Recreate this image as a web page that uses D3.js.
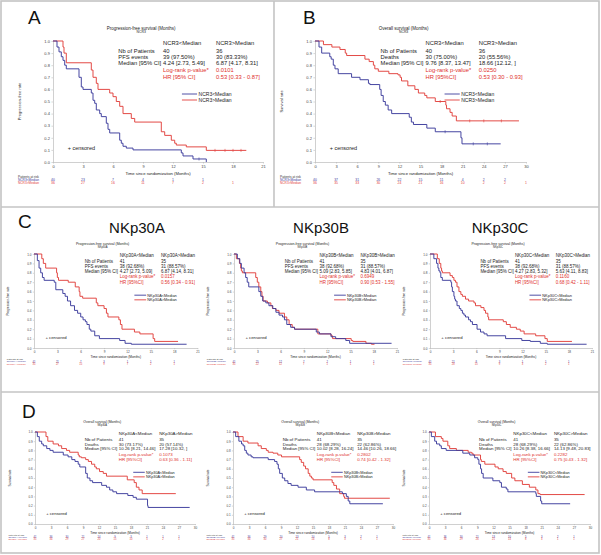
<!DOCTYPE html>
<html><head><meta charset="utf-8">
<script src="https://cdn.jsdelivr.net/npm/d3@7/dist/d3.min.js"></script>
<style>html,body{margin:0;padding:0;background:#fff;} svg{display:block;font-family:"Liberation Sans",Arial,sans-serif;}</style>
</head><body><svg id="c" width="601" height="555"></svg>
<script>
// ---------------- DATA ----------------
const yTickValues = [0,0.1,0.2,0.3,0.4,0.5,0.6,0.7,0.8,0.9,1.0];
const xTicks21 = [0,3,6,9,12,15,18,21];
const xTicks30 = [0,3,6,9,12,15,18,21,24,27,30];
const timeTitle = "Time since randomization (Months)";
const riskTitle = "Patients at risk";
const pfsTitle = "Progression-free survival (Months)";
const osTitle = "Overall survival (Months)";

// Panel A : NCR3, PFS  ([month, survival] steps)
const aLow = [[0,1],[0.4,0.95],[0.6,0.91],[0.83,0.87],[1.0,0.84],[1.17,0.80],[1.33,0.77],[2.6,0.70],[2.83,0.62],[3.0,0.60],[3.83,0.57],[4.0,0.51],[4.17,0.485],[4.33,0.43],[4.67,0.40],[4.83,0.375],[5.33,0.32],[5.5,0.27],[5.67,0.24],[6.67,0.18],[6.83,0.155],[7.0,0.13],[7.33,0.115],[8.0,0.10],[12.83,0.075],[13.0,0.05],[14.0,0.025],[15.33,0]];
const aHigh = [[0,1],[1.0,0.95],[1.1,0.90],[1.33,0.82],[3.83,0.76],[4.0,0.70],[4.33,0.65],[4.5,0.60],[5.67,0.57],[6.0,0.54],[6.33,0.50],[6.67,0.46],[7.0,0.40],[7.83,0.36],[8.17,0.33],[10.83,0.25],[11.17,0.22],[11.83,0.18],[12.17,0.155],[12.33,0.14],[13.33,0.125],[15.33,0.096],[19.33,0.096]];
const aLowCens = [14.6];
const aHighCens = [16.2,17.2,18.0,18.8];
const aGroups = ["NCR3<Median","NCR3>Median"];
const aRows = [["Nb of Patients","40","36"],["PFS events","39 (97.50%)","30 (83.33%)"],["Median [95% CI]","4.24 [2.73, 5.49]","6.87 [4.17, 8.31]"]];
const aTest = ["Log-rank p-value*","0.0101","HR [95% CI]","0.53 [0.33 - 0.87]"];
const aRiskLow = [40,23,7,4,1,1];
const aRiskHigh = [36,27,16,11,7,2,1];

// Panel B : NCR3, OS
const bLow = [[0,1],[0.57,0.95],[0.95,0.90],[2.1,0.87],[2.3,0.85],[2.6,0.80],[2.84,0.77],[3.3,0.73],[5.2,0.70],[6.4,0.68],[7.6,0.65],[7.8,0.64],[9.2,0.60],[9.4,0.55],[9.7,0.50],[10.0,0.47],[10.4,0.43],[10.9,0.40],[13.4,0.37],[13.7,0.33],[14.0,0.31],[15.9,0.28],[17.1,0.25],[20.75,0.20],[20.9,0.15],[26.4,0.15]];
const bHigh = [[0,1],[1.2,0.97],[2.4,0.95],[3.55,0.93],[4.3,0.90],[4.5,0.88],[7.1,0.85],[7.7,0.83],[8.3,0.80],[8.5,0.77],[9.0,0.75],[10.5,0.73],[11.8,0.72],[12.1,0.70],[12.3,0.67],[13.2,0.63],[14.2,0.60],[14.7,0.57],[15.6,0.55],[15.9,0.53],[17.1,0.50],[18.6,0.47],[18.7,0.44],[19.2,0.41],[19.5,0.38],[20.1,0.34],[29.0,0.34]];
const bLowCens = [18.5,22.5,24.5];
const bHighCens = [17.8,22.0,24.0,26.5];
const bGroups = ["NCR3<Median","NCR3>Median"];
const bRows = [["Nb of Patients","40","36"],["Deaths","30 (75.00%)","20 (55.56%)"],["Median [95% CI]","9.76 [8.37, 13.47]","18.66 [12.12, ]"]];
const bTest = ["Log-rank p-value*","0.0250","HR [95%CI]","0.53 [0.30 - 0.93]"];
const bRiskLow = [40,37,31,26,22,15,11,4,2,2];
const bRiskHigh = [36,35,33,30,24,21,16,10,2,2,1];

// Panel C : NKp30A / B / C, PFS
const c1Low = [[0,1],[0.43,0.93],[0.65,0.85],[0.86,0.80],[1.08,0.75],[1.3,0.72],[2.6,0.70],[2.8,0.62],[3.7,0.58],[4.0,0.55],[4.3,0.50],[4.7,0.45],[5.2,0.40],[5.6,0.37],[6.0,0.33],[6.3,0.30],[6.6,0.28],[6.8,0.25],[7.1,0.20],[7.3,0.18],[7.8,0.13],[8.4,0.10],[11.0,0.08],[11.7,0.05],[12.5,0.04],[19.6,0.04]];
const c1High = [[0,1],[1.0,0.95],[1.2,0.90],[1.5,0.85],[2.9,0.80],[3.0,0.75],[3.15,0.72],[4.4,0.70],[5.3,0.65],[5.8,0.60],[5.9,0.55],[6.25,0.53],[8.0,0.48],[8.2,0.45],[9.0,0.42],[9.3,0.37],[9.5,0.33],[10.9,0.30],[11.1,0.25],[11.3,0.20],[12.9,0.17],[13.6,0.15],[15.3,0.10],[15.5,0.07],[18.5,0.07]];
const c2Low = [[0,1],[0.43,0.95],[0.75,0.90],[0.95,0.85],[1.3,0.80],[1.5,0.75],[1.7,0.70],[1.9,0.65],[3.2,0.60],[3.45,0.55],[3.7,0.50],[4.1,0.48],[4.5,0.45],[5.0,0.42],[5.4,0.38],[5.8,0.35],[6.25,0.33],[6.5,0.30],[6.8,0.25],[7.3,0.22],[7.8,0.20],[10.6,0.17],[11.0,0.15],[12.5,0.12],[13.1,0.10],[14.4,0.08],[14.9,0.05],[20.3,0.05]];
const c2High = [[0,1],[0.3,0.95],[0.7,0.90],[0.86,0.85],[0.95,0.82],[1.08,0.80],[2.8,0.75],[3.0,0.70],[3.2,0.65],[3.45,0.60],[3.6,0.55],[3.75,0.50],[4.3,0.48],[4.75,0.45],[4.95,0.42],[5.4,0.40],[5.8,0.37],[6.5,0.33],[6.8,0.30],[7.1,0.25],[7.5,0.22],[7.8,0.20],[10.8,0.15],[12.5,0.13],[12.7,0.10],[15.1,0.08],[15.3,0.07],[17.0,0.05],[17.7,0.04],[18.1,0.04]];
const c3Low = [[0,1],[0.5,0.95],[0.85,0.90],[1.03,0.85],[1.15,0.82],[1.3,0.80],[1.4,0.75],[1.6,0.72],[2.7,0.70],[2.8,0.65],[2.9,0.60],[3.1,0.55],[3.2,0.52],[3.3,0.50],[3.5,0.45],[3.8,0.42],[4.0,0.40],[4.2,0.37],[4.4,0.35],[4.6,0.33],[5.0,0.30],[5.25,0.28],[5.5,0.25],[6.1,0.20],[6.55,0.17],[7.0,0.15],[7.4,0.13],[9.8,0.10],[11.9,0.08],[13.0,0.07],[14.3,0.05],[15.2,0.04],[20.3,0.04]];
const c3High = [[0,1],[0.95,0.95],[1.2,0.90],[1.4,0.85],[1.5,0.82],[1.6,0.80],[2.6,0.77],[2.9,0.75],[3.1,0.72],[3.3,0.70],[3.5,0.65],[3.75,0.60],[4.0,0.57],[4.2,0.55],[4.6,0.52],[5.0,0.50],[5.7,0.48],[5.9,0.45],[6.6,0.43],[7.0,0.40],[7.2,0.37],[7.5,0.33],[7.6,0.30],[9.5,0.28],[9.9,0.25],[10.4,0.22],[11.2,0.20],[11.7,0.18],[12.2,0.15],[13.7,0.13],[14.9,0.10],[15.2,0.07],[18.4,0.07]];
const c1Groups = ["NKp30A<Median","NKp30A>Median"];
const c2Groups = ["NKp30B<Median","NKp30B>Median"];
const c3Groups = ["NKp30C<Median","NKp30C>Median"];
const c1Rows = [["Nb of Patients","41","35"],["PFS events","38 (92.68%)","31 (88.57%)"],["Median [95% CI]","4.27 [2.73, 5.09]","6.87 [4.14, 8.31]"]];
const c2Rows = [["Nb of Patients","41","35"],["PFS events","38 (92.68%)","31 (88.57%)"],["Median [95% CI]","5.09 [2.83, 5.85]","4.83 [4.01, 6.87]"]];
const c3Rows = [["Nb of Patients","41","35"],["PFS events","38 (92.68%)","31 (88.57%)"],["Median [95% CI]","4.27 [2.83, 5.32]","5.63 [4.11, 8.83]"]];
const c1Test = ["Log-rank p-value*","0.0157","HR [95%CI]","0.56 [0.34 - 0.91]"];
const c2Test = ["Log-rank p-value*","0.6949","HR [95%CI]","0.90 [0.53 - 1.55]"];
const c3Test = ["Log-rank p-value*","0.1160","HR [95%CI]","0.68 [0.42 - 1.11]"];
const c1RiskLow = [41,21,7,3,1,1,1];
const c1RiskHigh = [35,27,15,9,7,2,1];
const c2RiskLow = [41,25,12,7,2,1,1];
const c2RiskHigh = [35,22,12,7,1,1,1];
const c3RiskLow = [41,21,8,3,1,1,1];
const c3RiskHigh = [35,28,15,9,3,2,1];

// Panel D : NKp30A / B / C, OS
const d1Low = [[0,1],[0.44,0.95],[0.8,0.90],[1.25,0.87],[1.56,0.85],[2.2,0.82],[2.8,0.80],[3.4,0.78],[5.3,0.75],[6.2,0.73],[6.9,0.70],[7.5,0.68],[8.1,0.65],[8.4,0.62],[9.5,0.55],[9.8,0.50],[10.3,0.47],[10.8,0.45],[12.5,0.42],[13.4,0.40],[14.0,0.37],[14.6,0.35],[15.3,0.33],[17.4,0.31],[18.4,0.29],[19.0,0.27],[21.1,0.20],[21.2,0.18],[29.0,0.18]];
const d1High = [[0,1],[2.06,0.95],[2.4,0.90],[3.4,0.87],[4.4,0.85],[5.0,0.82],[5.9,0.80],[6.5,0.78],[8.1,0.75],[8.3,0.73],[8.7,0.72],[9.5,0.70],[10.0,0.68],[10.6,0.65],[11.2,0.62],[11.5,0.60],[12.1,0.57],[12.8,0.55],[13.4,0.52],[17.3,0.48],[18.6,0.45],[19.0,0.40],[19.5,0.37],[20.1,0.33],[26.4,0.33]];
const d2Low = [[0,1],[0.5,0.95],[1.1,0.90],[1.6,0.87],[1.9,0.85],[2.2,0.80],[2.5,0.77],[2.8,0.75],[3.4,0.73],[3.75,0.72],[6.6,0.70],[7.8,0.68],[8.25,0.65],[8.5,0.60],[8.75,0.55],[9.25,0.50],[9.7,0.47],[10.3,0.44],[10.9,0.42],[12.2,0.40],[13.75,0.37],[15.3,0.35],[20.5,0.33],[21.25,0.30],[21.6,0.25],[21.9,0.22],[28.1,0.22]];
const d2High = [[0,1],[0.94,0.95],[1.9,0.90],[2.8,0.88],[4.7,0.85],[5.3,0.82],[6.25,0.80],[6.6,0.78],[7.5,0.77],[8.4,0.75],[9.1,0.73],[12.5,0.70],[12.8,0.67],[13.25,0.63],[13.6,0.60],[14.1,0.55],[14.4,0.52],[14.7,0.50],[15.0,0.48],[18.6,0.45],[18.9,0.42],[19.4,0.38],[20.0,0.33],[20.75,0.30],[20.9,0.28],[29.4,0.28]];
const d3Low = [[0,1],[0.44,0.95],[1.06,0.90],[1.4,0.87],[2.0,0.85],[2.3,0.82],[3.2,0.80],[6.3,0.77],[7.6,0.75],[8.5,0.72],[9.1,0.70],[9.3,0.65],[9.6,0.60],[9.8,0.55],[10.1,0.50],[11.9,0.47],[13.2,0.45],[13.5,0.40],[14.4,0.38],[14.7,0.35],[19.9,0.33],[20.0,0.30],[20.8,0.25],[21.0,0.22],[26.3,0.22]];
const d3High = [[0,1],[1.2,0.95],[2.3,0.93],[2.6,0.90],[3.5,0.85],[3.85,0.82],[5.1,0.80],[7.3,0.78],[7.9,0.77],[8.2,0.75],[9.6,0.70],[9.75,0.68],[10.4,0.65],[12.3,0.62],[12.9,0.60],[13.8,0.57],[14.4,0.55],[15.4,0.50],[16.0,0.47],[17.4,0.43],[18.7,0.40],[19.9,0.37],[20.3,0.33],[20.7,0.32],[29.0,0.32]];
const d1Rows = [["Nb of Patients","41","35"],["Deaths","30 (73.17%)","20 (57.14%)"],["Median [95% CI]","10.26 [8.21, 14.46]","17.28 [10.32, ]"]];
const d2Rows = [["Nb of Patients","41","35"],["Deaths","28 (68.29%)","22 (62.86%)"],["Median [95% CI]","10.02 [8.28, 16.24]","14.46 [10.26, 18.66]"]];
const d3Rows = [["Nb of Patients","41","35"],["Deaths","28 (68.29%)","22 (62.86%)"],["Median [95% CI]","10.26 [8.38, 16.66]","14.13 [9.48, 20.83]"]];
const d1Test = ["Log-rank p-value*","0.1073","HR [95%CI]","0.63 [0.36 - 1.11]"];
const d2Test = ["Log-rank p-value*","0.2802","HR [95%CI]","0.74 [0.42 - 1.32]"];
const d3Test = ["Log-rank p-value*","0.2282","HR [95%CI]","0.75 [0.43 - 1.32]"];
const d1RiskLow = [41,36,30,21,14,9,3,1,1,1];
const d1RiskHigh = [35,34,29,27,20,15,10,5,2,1];
const d2RiskLow = [41,36,29,20,13,10,5,3,2,1];
const d2RiskHigh = [35,34,30,27,21,14,8,3,1,1];
const d3RiskLow = [41,36,30,21,13,10,5,3,2,1];
const d3RiskHigh = [35,34,29,26,21,14,8,3,1,1];

// ---------------- LAYOUT / STYLE ----------------
const BLUE = "#3c3c9c", RED = "#e2403c", TXTRED = "#e0302c", GRID = "#c4c4c4";
const svg = d3.select("#c");

svg.append("rect").attr("x",1).attr("y",1).attr("width",598).attr("height",552)
  .attr("fill","none").attr("stroke",GRID).attr("stroke-width",1.6);
svg.append("line").attr("x1",274).attr("x2",274).attr("y1",1).attr("y2",207).attr("stroke",GRID).attr("stroke-width",1.6);
svg.append("line").attr("x1",1).attr("x2",599).attr("y1",207).attr("y2",207).attr("stroke",GRID).attr("stroke-width",1.6);
svg.append("line").attr("x1",1).attr("x2",599).attr("y1",392).attr("y2",392).attr("stroke",GRID).attr("stroke-width",1.6);

const letters = [["A",28,24],["B",303,24],["C",18,228],["D",22,418]];
letters.forEach(l => svg.append("text").attr("x",l[1]).attr("y",l[2]).text(l[0])
  .attr("font-size",19).attr("fill","#111"));
const headers = [["NKp30A",137],["NKp30B",321],["NKp30C",500]];
headers.forEach(h => svg.append("text").attr("x",h[1]).attr("y",233).attr("text-anchor","middle")
  .text(h[0]).attr("font-size",15).attr("fill","#111"));

const panels = [
  {x0:53,x1:263,xMax:21,ticks:xTicks21,yT:41,yB:162,title:pfsTitle,sub:"NCR3",yt:"Progression-free rate",groups:aGroups,rows:aRows,test:aTest,low:aLow,high:aHigh,lowC:aLowCens,highC:aHighCens,rL:aRiskLow,rH:aRiskHigh},
  {x0:315,x1:526,xMax:30,ticks:xTicks30,yT:41,yB:162,title:osTitle,sub:"NCR3",yt:"Survival rate",groups:bGroups,rows:bRows,test:bTest,low:bLow,high:bHigh,lowC:bLowCens,highC:bHighCens,rL:bRiskLow,rH:bRiskHigh},
  {x0:34,x1:197.5,xMax:21,ticks:xTicks21,yT:254,yB:348,title:pfsTitle,sub:"NKp30A",yt:"Progression-free rate",groups:c1Groups,rows:c1Rows,test:c1Test,low:c1Low,high:c1High,lowC:[],highC:[],rL:c1RiskLow,rH:c1RiskHigh},
  {x0:234,x1:397,xMax:21,ticks:xTicks21,yT:254,yB:348,title:pfsTitle,sub:"NKp30B",yt:"Progression-free rate",groups:c2Groups,rows:c2Rows,test:c2Test,low:c2Low,high:c2High,lowC:[],highC:[],rL:c2RiskLow,rH:c2RiskHigh},
  {x0:430,x1:592,xMax:21,ticks:xTicks21,yT:254,yB:348,title:pfsTitle,sub:"NKp30C",yt:"Progression-free rate",groups:c3Groups,rows:c3Rows,test:c3Test,low:c3Low,high:c3High,lowC:[],highC:[],rL:c3RiskLow,rH:c3RiskHigh},
  {x0:35,x1:195,xMax:30,ticks:xTicks30,yT:432,yB:524,title:osTitle,sub:"NKp30A",yt:"Survival rate",groups:c1Groups,rows:d1Rows,test:d1Test,low:d1Low,high:d1High,lowC:[],highC:[],rL:d1RiskLow,rH:d1RiskHigh},
  {x0:233,x1:393,xMax:30,ticks:xTicks30,yT:432,yB:524,title:osTitle,sub:"NKp30B",yt:"Survival rate",groups:c2Groups,rows:d2Rows,test:d2Test,low:d2Low,high:d2High,lowC:[],highC:[],rL:d2RiskLow,rH:d2RiskHigh},
  {x0:429,x1:590,xMax:30,ticks:xTicks30,yT:432,yB:524,title:osTitle,sub:"NKp30C",yt:"Survival rate",groups:c3Groups,rows:d3Rows,test:d3Test,low:d3Low,high:d3High,lowC:[],highC:[],rL:d3RiskLow,rH:d3RiskHigh}
];

function stepValue(curve, t){ let s = 1; curve.forEach(p => { if (p[0] <= t) s = p[1]; }); return s; }

function drawPanel(p){
  const x = d3.scaleLinear().domain([0,p.xMax]).range([p.x0,p.x1]);
  const y = d3.scaleLinear().domain([0,1]).range([p.yB,p.yT]);
  const H = p.yB - p.yT, W = p.x1 - p.x0, k = H/121;
  const g = svg.append("g");
  const txt = (xx,yy,s,size,opts={}) => g.append("text").attr("x",xx).attr("y",yy).attr("dy","0.35em")
      .attr("font-size",size).attr("fill",opts.fill||"#222").attr("text-anchor",opts.anchor||"start").text(s);

  // axes
  const ya = g.append("g").attr("transform",`translate(${p.x0},0)`)
    .call(d3.axisLeft(y).tickValues(yTickValues).tickFormat(d3.format(".1f")).tickSize(1.6*k).tickSizeOuter(0).tickPadding(1.5*k));
  const xa = g.append("g").attr("transform",`translate(0,${p.yB})`)
    .call(d3.axisBottom(x).tickValues(p.ticks).tickFormat(d3.format("d")).tickSize(1.6*k).tickSizeOuter(0).tickPadding(1.5*k));
  [ya,xa].forEach(a => {
    a.selectAll("path.domain").attr("stroke","#b0b0b0").attr("stroke-width",0.6);
    a.selectAll(".tick line").attr("stroke","#b0b0b0").attr("stroke-width",0.5);
    a.selectAll(".tick text").attr("font-size",4*k).attr("fill","#444").attr("font-family","Liberation Sans, Arial, sans-serif");
  });

  // titles
  txt(p.x0+0.42*W, p.yT-13*k, p.title, 4.5*k, {anchor:"middle"});
  txt(p.x0+0.42*W, p.yT-9*k, p.sub, 3.4*k, {anchor:"middle"});
  g.append("text").attr("transform",`translate(${p.x0-33*k},${p.yT+H/2}) rotate(-90)`).attr("dy","0.35em")
    .attr("text-anchor","middle").attr("font-size",4*k).attr("fill","#333").text(p.yt);
  txt(p.x0+0.5*W, p.yB+12*k, timeTitle, 4.2*k, {anchor:"middle"});

  // risk table
  txt(p.x0-35*k, p.yB+14.5*k, riskTitle, 3.2*k, {fill:"#333"});
  txt(p.x0-35*k, p.yB+17.5*k, p.groups[0], 3.2*k, {fill:BLUE});
  txt(p.x0-35*k, p.yB+20.5*k, p.groups[1], 3.2*k, {fill:RED});
  p.rL.forEach((v,i) => txt(x(p.ticks[i]), p.yB+17.5*k, v, 3.4*k, {fill:BLUE, anchor:"middle"}));
  p.rH.forEach((v,i) => txt(x(p.ticks[i]), p.yB+20.5*k, v, 3.4*k, {fill:RED, anchor:"middle"}));

  // stats block
  const cL = p.x0+0.311*W, c1 = p.x0+0.524*W, c2 = p.x0+0.776*W, fs = 5.8*k;
  txt(c1, p.yT+2*k, p.groups[0], fs);
  txt(c2, p.yT+2*k, p.groups[1], fs);
  p.rows.forEach((r,i) => {
    const yy = p.yT+(10+6*i)*k;
    txt(cL, yy, r[0], fs); txt(c1, yy, r[1], fs); txt(c2, yy, r[2], fs);
  });
  txt(c1, p.yT+29*k, p.test[0], fs, {fill:TXTRED});
  txt(c2, p.yT+29*k, p.test[1], fs, {fill:TXTRED});
  txt(c1, p.yT+36*k, p.test[2], fs, {fill:TXTRED});
  txt(c2, p.yT+36*k, p.test[3], fs, {fill:TXTRED});

  // legend
  const lx1 = p.x0+0.614*W, lx2 = p.x0+0.686*W;
  [[BLUE,53,p.groups[0]],[RED,59,p.groups[1]]].forEach(d => {
    const yy = p.yT+d[1]*k;
    g.append("line").attr("x1",lx1).attr("x2",lx2).attr("y1",yy).attr("y2",yy).attr("stroke",d[0]).attr("stroke-width",0.9);
    txt(lx2+1.5*k, yy, d[2], 5*k);
  });
  txt(p.x0+0.07*W, p.yT+0.884*H, "+ censored", 5.5*k);

  // curves
  const line = d3.line().x(d => x(d[0])).y(d => y(d[1])).curve(d3.curveStepAfter);
  g.append("path").datum(p.high).attr("d",line).attr("fill","none").attr("stroke",RED).attr("stroke-width",0.95);
  g.append("path").datum(p.low).attr("d",line).attr("fill","none").attr("stroke",BLUE).attr("stroke-width",0.95);
  [[p.lowC,p.low,BLUE],[p.highC,p.high,RED]].forEach(c => {
    c[0].forEach(t => {
      const yy = y(stepValue(c[1],t));
      g.append("line").attr("x1",x(t)).attr("x2",x(t)).attr("y1",yy-1.5*k).attr("y2",yy+1.5*k).attr("stroke",c[2]).attr("stroke-width",0.6);
    });
  });
}
panels.forEach(drawPanel);
</script></body></html>
